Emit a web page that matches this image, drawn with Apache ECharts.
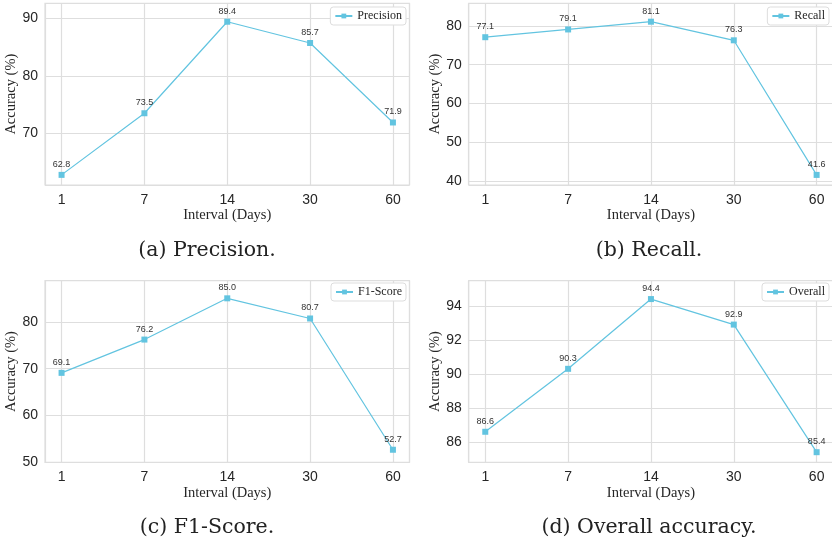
<!DOCTYPE html>
<html>
<head>
<meta charset="utf-8">
<script src="https://cdn.jsdelivr.net/npm/echarts@6/dist/echarts.min.js"></script>
<style>html,body{margin:0;padding:0;background:#fff;}#c{width:832px;height:552px;}</style>
</head>
<body>
<div id="c"></div>
<script>
// ---- data ----
const intervals = ['1', '7', '14', '30', '60'];
const precision = [62.8, 73.5, 89.4, 85.7, 71.9];
const recall = [77.1, 79.1, 81.1, 76.3, 41.6];
const f1Score = [69.1, 76.2, 85.0, 80.7, 52.7];
const overall = [86.6, 90.3, 94.4, 92.9, 85.4];
const seriesNames = ['Precision', 'Recall', 'F1-Score', 'Overall'];
const captions = ['(a) Precision.', '(b) Recall.', '(c) F1-Score.', '(d) Overall accuracy.'];
const xTitle = 'Interval (Days)';
const yTitle = 'Accuracy (%)';

// ---- layout / style ----
const COLOR = '#62c4e0';
const GRIDC = '#dedede';
const panels = [
  {values: precision, name: seriesNames[0], min: 61.04, max: 92.6, split: 3, step: 10,
   left: 45, top: 3.3, cx: 207, cy: 251, legRight: 426, legTop: 7},
  {values: recall, name: seriesNames[1], min: 39.0, max: 85.84, split: 5, step: 10,
   left: 468.7, top: 3.3, cx: 649, cy: 251, legRight: 3, legTop: 7},
  {values: f1Score, name: seriesNames[2], min: 50, max: 88.76, split: 4, step: 10,
   left: 45, top: 280.7, cx: 207, cy: 528, legRight: 426, legTop: 283},
  {values: overall, name: seriesNames[3], min: 84.8, max: 95.48, split: 5, step: 2,
   left: 468.7, top: 280.7, cx: 649, cy: 528, legRight: 3, legTop: 283}
];
const PW = 364.5, PH = 181.7;

const grid = [], xAxis = [], yAxis = [], series = [], legend = [], graphic = [];
panels.forEach((p, i) => {
  grid.push({left: p.left, top: p.top, width: PW, height: PH, show: true,
    borderColor: GRIDC, borderWidth: 1.2, containLabel: false, outerBoundsMode: 'none'});
  xAxis.push({
    type: 'value', gridIndex: i, min: -0.2, max: 4.2, splitNumber: 4,
    name: xTitle, nameLocation: 'middle', nameGap: 23,
    nameTextStyle: {fontFamily: 'Liberation Serif', fontSize: 14.5, color: '#262626'},
    axisLine: {show: false}, axisTick: {show: false},
    axisLabel: {
      fontFamily: 'Liberation Sans', fontSize: 14, color: '#262626', margin: 8,
      formatter: v => (Math.abs(v - Math.round(v)) < 1e-6 && intervals[Math.round(v)] !== undefined) ? intervals[Math.round(v)] : ''
    },
    splitLine: {show: true, lineStyle: {color: GRIDC, width: 1.2}}
  });
  yAxis.push({
    type: 'value', gridIndex: i, min: p.min, max: p.max, splitNumber: p.split,
    name: yTitle, nameLocation: 'middle', nameGap: 26, nameRotate: 90,
    nameTextStyle: {fontFamily: 'Liberation Serif', fontSize: 14.5, color: '#262626'},
    axisLine: {show: false}, axisTick: {show: false},
    axisLabel: {
      fontFamily: 'Liberation Sans', fontSize: 14, color: '#262626', margin: 7,
      formatter: v => (Math.abs(v / p.step - Math.round(v / p.step)) < 1e-6) ? String(Math.round(v)) : ''
    },
    splitLine: {show: true, lineStyle: {color: GRIDC, width: 1.2}}
  });
  series.push({
    type: 'line', name: p.name, xAxisIndex: i, yAxisIndex: i,
    data: p.values.map((v, k) => [k, v]),
    symbol: 'rect', symbolSize: 6,
    lineStyle: {color: COLOR, width: 1.2},
    itemStyle: {color: COLOR},
    label: {show: true, position: 'top', distance: 3,
      fontFamily: 'Liberation Sans', fontSize: 9, color: '#333',
      formatter: d => d.value[1].toFixed(1)},
    emphasis: {disabled: true},
    animation: false
  });
  legend.push({
    data: [p.name], right: p.legRight, top: p.legTop,
    backgroundColor: '#fff', borderColor: '#dddddd', borderWidth: 1, borderRadius: 3,
    padding: [3, 4, 3, 4], itemWidth: 17, itemHeight: 6, itemGap: 4,
    textStyle: {fontFamily: 'Liberation Serif', fontSize: 12, color: '#262626'}
  });
  graphic.push({
    type: 'text', x: p.cx, y: p.cy,
    style: {text: captions[i], font: '20.5px "DejaVu Serif"', fill: '#222',
      align: 'center', verticalAlign: 'middle'}
  });
});

const chart = echarts.init(document.getElementById('c'), null, {renderer: 'canvas'});
chart.setOption({animation: false, backgroundColor: '#fff', grid, xAxis, yAxis, series, legend, graphic});
</script>
</body>
</html>
